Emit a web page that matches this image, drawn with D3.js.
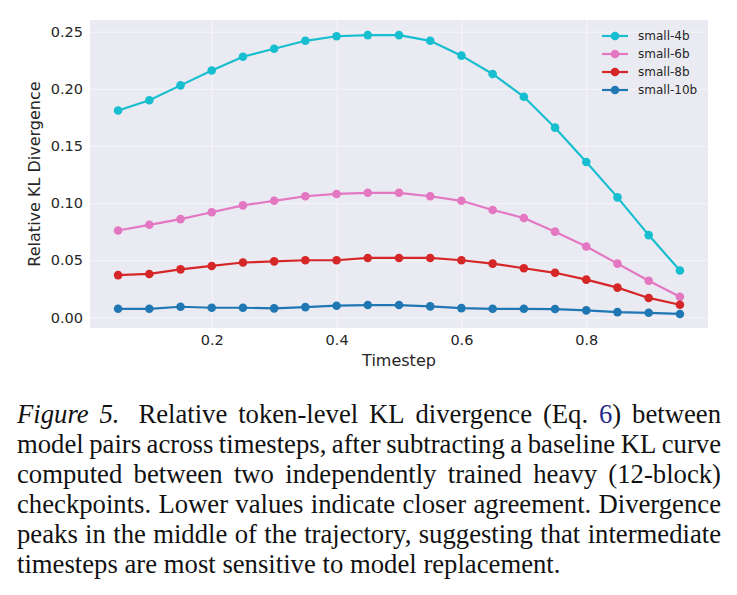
<!DOCTYPE html>
<html>
<head>
<meta charset="utf-8">
<script src="https://cdn.jsdelivr.net/npm/d3@7"></script>
<style>
  body { margin: 0; background: #fff; }
  svg { display: block; }
</style>
</head>
<body>
<script>
// data
var timesteps = [0.05, 0.10, 0.15, 0.20, 0.25, 0.30, 0.35, 0.40, 0.45, 0.50,
                 0.55, 0.60, 0.65, 0.70, 0.75, 0.80, 0.85, 0.90, 0.95];
var small4b  = [0.181, 0.190, 0.203, 0.216, 0.228, 0.235, 0.242, 0.246, 0.247, 0.247,
                0.242, 0.229, 0.213, 0.193, 0.166, 0.136, 0.105, 0.072, 0.041];
var small6b  = [0.076, 0.081, 0.086, 0.092, 0.098, 0.102, 0.106, 0.108, 0.109, 0.109,
                0.106, 0.102, 0.094, 0.087, 0.075, 0.062, 0.047, 0.032, 0.018];
var small8b  = [0.037, 0.038, 0.042, 0.045, 0.048, 0.049, 0.050, 0.050, 0.052, 0.052,
                0.052, 0.050, 0.047, 0.043, 0.039, 0.033, 0.026, 0.017, 0.011];
var small10b = [0.0075, 0.0075, 0.0093, 0.0084, 0.0084, 0.0079, 0.009, 0.0102, 0.0108, 0.0108,
                0.0096, 0.0081, 0.0075, 0.0075, 0.0073, 0.0061, 0.0046, 0.004, 0.003];
var seriesNames = ['small-4b', 'small-6b', 'small-8b', 'small-10b'];
var seriesValues = [small4b, small6b, small8b, small10b];
var seriesColors = ['#17becf', '#e377c2', '#d62728', '#1f77b4'];
var xTicks = [0.2, 0.4, 0.6, 0.8];
var yTicks = [0.00, 0.05, 0.10, 0.15, 0.20, 0.25];

var captionLines = [
  [[['Figure', 'i']], [['5.', 'i']], [['Relative']], [['token-level']], [['KL']], [['divergence']], [['(Eq.']], [['6', 'b'], [')']], [['between']]],
  'model pairs across timesteps, after subtracting a baseline KL curve',
  'computed between two independently trained heavy (12-block)',
  'checkpoints. Lower values indicate closer agreement. Divergence',
  'peaks in the middle of the trajectory, suggesting that intermediate',
  'timesteps are most sensitive to model replacement.'
];

var W = 737, H = 595;
var plot = {left: 90, top: 20, right: 708, bottom: 328};
var pw = plot.right - plot.left, ph = plot.bottom - plot.top;

var svg = d3.select('body').append('svg')
    .attr('width', W)
    .attr('height', H);

var x = d3.scaleLinear().domain([0.005, 0.995]).range([0, pw]);
var y = d3.scaleLinear().domain([-0.0093, 0.2602]).range([ph, 0]);

var g = svg.append('g').attr('transform', 'translate(' + plot.left + ',' + plot.top + ')');

g.append('rect')
    .attr('width', pw)
    .attr('height', ph)
    .attr('fill', '#eaeaf2');

var xAxis = d3.axisBottom(x).tickValues(xTicks).tickFormat(d3.format('.1f'))
    .tickSizeInner(-ph).tickSizeOuter(0).tickPadding(7);
var yAxis = d3.axisLeft(y).tickValues(yTicks).tickFormat(d3.format('.2f'))
    .tickSizeInner(-pw).tickSizeOuter(0).tickPadding(7);

var gx = g.append('g')
    .attr('transform', 'translate(0,' + ph + ')')
    .call(xAxis);
var gy = g.append('g').call(yAxis);

[gx, gy].forEach(function(a){
  a.select('.domain').remove();
  a.selectAll('.tick line').attr('stroke', '#f5f5f9').attr('stroke-width', 1);
  a.selectAll('.tick text')
      .attr('fill', '#262626')
      .style('font-family', 'DejaVu Sans')
      .style('font-size', '14.5px');
});

var line = d3.line()
    .x(function(d, i){ return x(timesteps[i]); })
    .y(function(d){ return y(d); });

seriesValues.forEach(function(vals, k){
  var s = g.append('g').attr('class', 'series');
  s.append('path')
      .datum(vals)
      .attr('fill', 'none')
      .attr('stroke', seriesColors[k])
      .attr('stroke-width', 2.2)
      .attr('d', line);
  s.selectAll('circle')
      .data(vals)
      .enter().append('circle')
      .attr('cx', function(d, i){ return x(timesteps[i]); })
      .attr('cy', function(d){ return y(d); })
      .attr('r', 4.3)
      .attr('fill', seriesColors[k]);
});

// legend
var legend = svg.append('g').attr('transform', 'translate(602,36)');
var rows = legend.selectAll('g')
    .data(seriesNames)
    .enter().append('g')
    .attr('transform', function(d, i){ return 'translate(0,' + (i * 18) + ')'; });
rows.append('line')
    .attr('x1', 0).attr('x2', 26)
    .attr('stroke', function(d, i){ return seriesColors[i]; })
    .attr('stroke-width', 2.2);
rows.append('circle')
    .attr('cx', 13).attr('r', 4.3)
    .attr('fill', function(d, i){ return seriesColors[i]; });
rows.append('text')
    .attr('x', 36)
    .attr('dy', '0.36em')
    .attr('fill', '#262626')
    .style('font-family', 'DejaVu Sans')
    .style('font-size', '12px')
    .text(function(d){ return d; });

// axis labels
svg.append('text')
    .attr('x', (plot.left + plot.right) / 2)
    .attr('y', 366)
    .attr('text-anchor', 'middle')
    .attr('fill', '#262626')
    .style('font-family', 'DejaVu Sans')
    .style('font-size', '16px')
    .text('Timestep');
svg.append('text')
    .attr('transform', 'translate(40,' + ((plot.top + plot.bottom) / 2) + ') rotate(-90)')
    .attr('text-anchor', 'middle')
    .attr('fill', '#262626')
    .style('font-family', 'DejaVu Sans')
    .style('font-size', '16px')
    .text('Relative KL Divergence');

// caption, justified word by word
var capLeft = 17, capRight = 721, capTop = 423, capStep = 29.9;
captionLines.forEach(function(ln, li){
  var words = typeof ln === 'string'
      ? ln.split(' ').map(function(w){ return [[w]]; })
      : ln;
  var lg = svg.append('g');
  var nodes = words.map(function(segs){
    var t = lg.append('text')
        .attr('y', capTop + li * capStep)
        .attr('fill', '#111')
        .style('font-family', 'Liberation Serif')
        .style('font-size', '26.7px');
    segs.forEach(function(s){
      var ts = t.append('tspan').text(s[0]);
      if (s[1] === 'i') ts.style('font-style', 'italic');
      if (s[1] === 'b') ts.attr('fill', '#1f2a8a');
    });
    return t;
  });
  var widths = nodes.map(function(t){ return t.node().getComputedTextLength(); });
  var extra = li === 0 ? 8 : 0;   // wider gap after "Figure 5."
  var total = d3.sum(widths) + extra;
  var last = li === captionLines.length - 1;
  var gap = last ? 6.7 : (capRight - capLeft - total) / (nodes.length - 1);
  var cx = capLeft;
  nodes.forEach(function(t, i){
    t.attr('x', cx);
    cx += widths[i] + gap + (li === 0 && i === 1 ? extra : 0);
  });
});
</script>
</body>
</html>
